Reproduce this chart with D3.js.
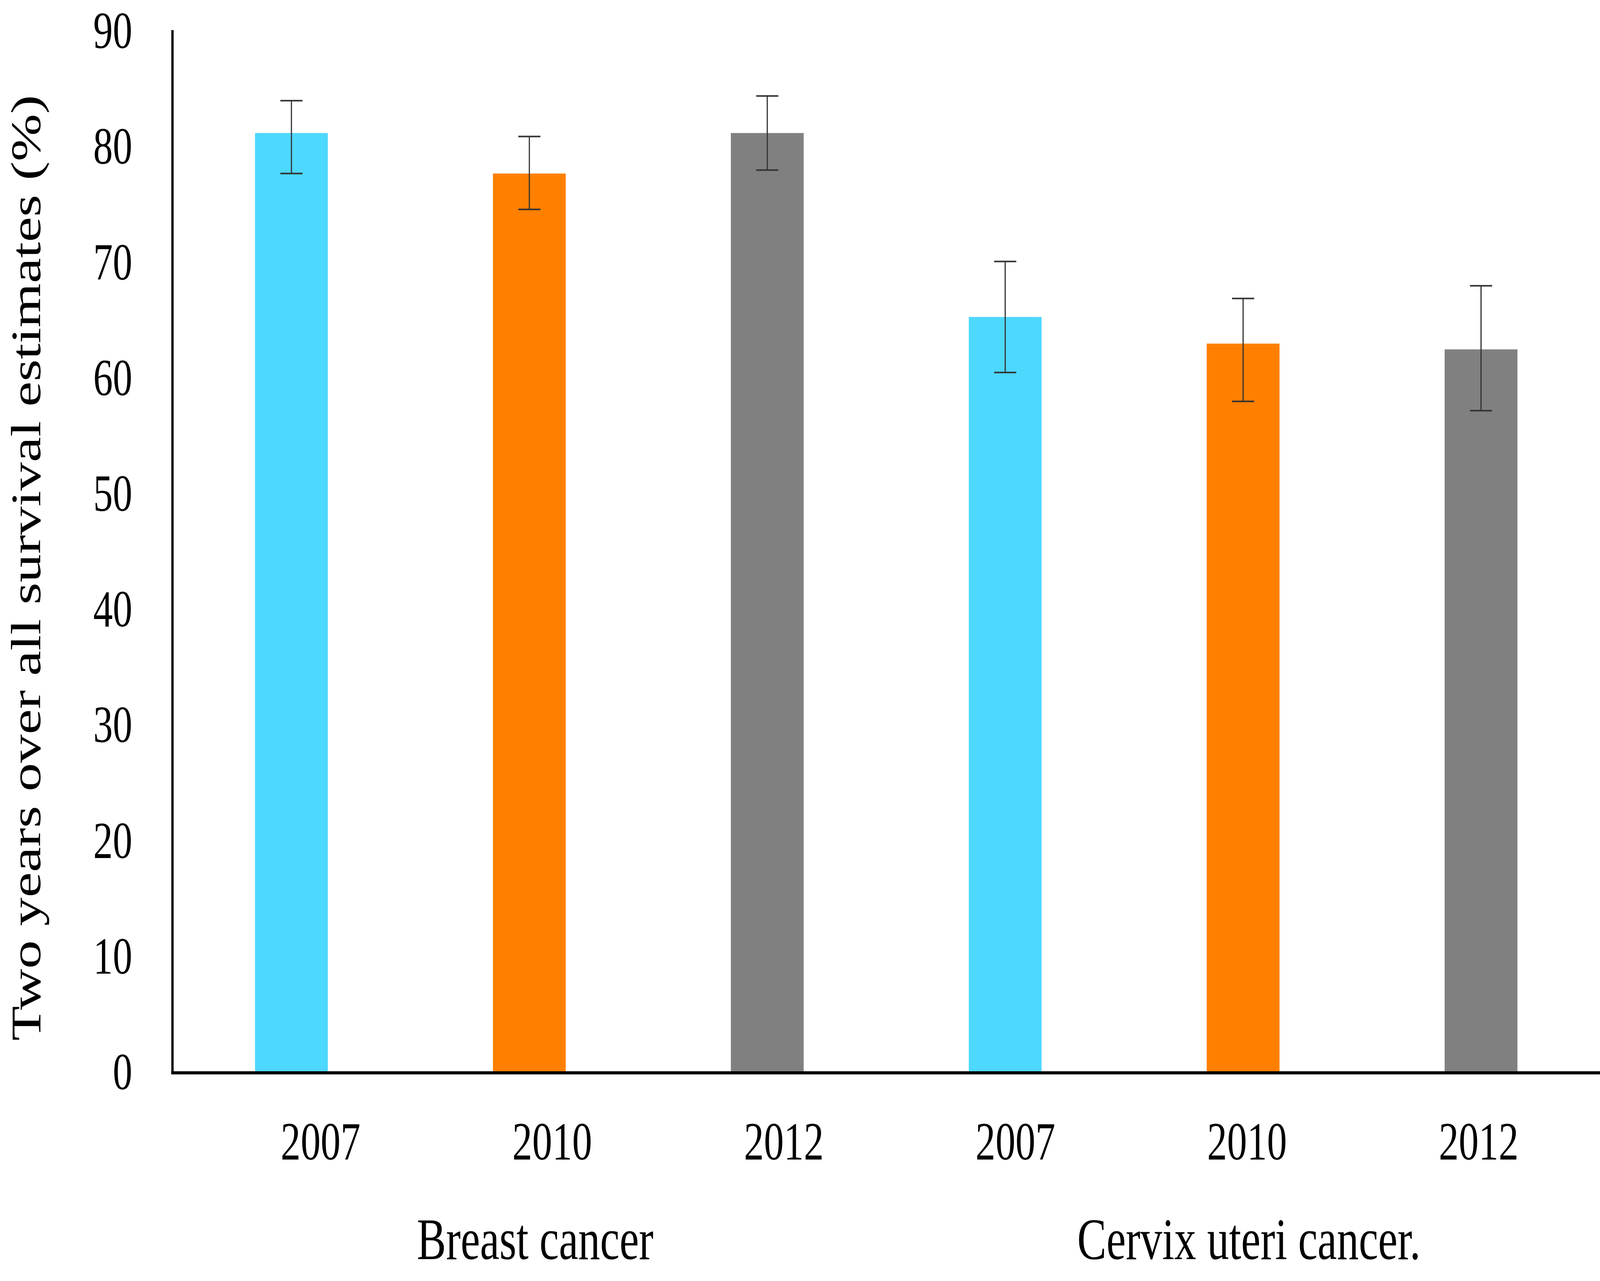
<!DOCTYPE html>
<meta charset="utf-8">
<style>
  html, body { margin: 0; height: 100%; background: #fff; overflow: hidden; }
  svg { display: block; width: 100vw; height: 100vh; }
  text { font-family: "Liberation Serif", "Times New Roman", serif; fill: #000; }
  .bar-0 { fill: #4dd8fe; }
  .bar-1 { fill: #ff8000; }
  .bar-2 { fill: #808080; }
  .err { stroke: #333; stroke-width: 4; fill: none; }
  .axis-line { stroke: #000; stroke-width: 8; }
</style>
<svg viewBox="0 0 5492 3280" preserveAspectRatio="none"></svg>
<script src="https://d3js.org/d3.v7.min.js"></script>
<script>
  // data
  var groups = ["Breast cancer", "Cervix uteri cancer."];
  var years = ["2007", "2010", "2012"];
  var values = [81.1, 77.6, 81.1, 65.2, 62.9, 62.4];
  var lower = [77.6, 74.5, 77.9, 60.4, 57.9, 57.1];
  var upper = [83.9, 80.8, 84.3, 70.0, 66.8, 67.9];
  var yTicks = [0, 10, 20, 30, 40, 50, 60, 70, 80, 90];

  var data = [];
  groups.forEach(function(g, gi) {
    years.forEach(function(yr, yi) {
      var i = gi * years.length + yi;
      data.push({key: g + "|" + yr, group: g, year: yr, yi: yi,
        value: values[i], lo: lower[i], hi: upper[i]});
    });
  });

  var svg = d3.select("svg");

  var plotLeft = 592, plotRight = 5492, plotTop = 77, plotBottom = 2743;

  var x = d3.scaleBand()
    .domain(data.map(function(d) { return d.key; }))
    .range([plotLeft, plotRight]);

  // the category labels sit on a slightly narrower grid than the bars
  var xLabel = d3.scaleBand()
    .domain(data.map(function(d) { return d.key; }))
    .range([703, 5473]);

  var y = d3.scaleLinear().domain([0, 90]).range([plotBottom, plotTop]);

  var barW = x.bandwidth() * 0.306;
  var capW = 76;

  // bars
  svg.selectAll(".bar")
    .data(data)
    .enter().append("rect")
    .attr("class", function(d) { return "bar bar-" + d.yi; })
    .attr("x", function(d) { return x(d.key) + x.bandwidth() / 2 - barW / 2; })
    .attr("y", function(d) { return y(d.value); })
    .attr("width", barW)
    .attr("height", function(d) { return y(0) - y(d.value); });

  // error bars
  var eb = svg.selectAll(".eb")
    .data(data)
    .enter().append("g")
    .attr("class", "eb")
    .attr("transform", function(d) { return "translate(" + (x(d.key) + x.bandwidth() / 2) + ",0)"; });

  eb.append("line").attr("class", "err")
    .attr("x1", 0).attr("x2", 0)
    .attr("y1", function(d) { return y(d.hi); })
    .attr("y2", function(d) { return y(d.lo); });
  eb.append("line").attr("class", "err")
    .attr("x1", -capW / 2).attr("x2", capW / 2)
    .attr("y1", function(d) { return y(d.hi); })
    .attr("y2", function(d) { return y(d.hi); });
  eb.append("line").attr("class", "err")
    .attr("x1", -capW / 2).attr("x2", capW / 2)
    .attr("y1", function(d) { return y(d.lo); })
    .attr("y2", function(d) { return y(d.lo); });

  // y axis: labels only, line drawn separately
  var yAxis = d3.axisLeft(y).tickValues(yTicks).tickSize(0).tickPadding(138);
  var gy = svg.append("g")
    .attr("transform", "translate(" + plotLeft + ",0)")
    .call(yAxis);
  gy.select(".domain").remove();
  gy.attr("font-family", null).attr("font-size", null);
  gy.selectAll("text")
    .style("font-size", "134px")
    .attr("dy", "0.34em");

  svg.append("line").attr("class", "axis-line")
    .attr("x1", plotLeft).attr("x2", plotLeft)
    .attr("y1", y(90)).attr("y2", plotBottom + 8);
  svg.append("line").attr("class", "axis-line")
    .attr("x1", plotLeft - 4).attr("x2", plotRight)
    .attr("y1", plotBottom + 4).attr("y2", plotBottom + 4);

  // x axis year labels
  var xAxis = d3.axisBottom(xLabel)
    .tickSize(0)
    .tickFormat(function(k) { return k.split("|")[1]; });
  var gx = svg.append("g")
    .attr("transform", "translate(0," + plotBottom + ")")
    .call(xAxis);
  gx.select(".domain").remove();
  gx.attr("font-family", null).attr("font-size", null);
  gx.selectAll("text")
    .attr("y", 226)
    .attr("dy", null)
    .style("font-size", "137px");

  // group labels, centred under each group of bars
  svg.selectAll(".group-label")
    .data(groups)
    .enter().append("text")
    .attr("class", "group-label")
    .attr("text-anchor", "middle")
    .attr("x", function(g) {
      var keys = years.map(function(yr) { return g + "|" + yr; });
      return (x(keys[0]) + x(keys[keys.length - 1]) + x.bandwidth()) / 2 + 20;
    })
    .attr("y", 3224)
    .style("font-size", "150px")
    .text(function(g) { return g; });

  // y title
  svg.append("text")
    .attr("transform", "translate(138," + ((plotTop + plotBottom) / 2 + 44) + ") rotate(-90)")
    .attr("text-anchor", "middle")
    .style("font-size", "146px")
    .text("Two years over all survival estimates (%)");
</script>
